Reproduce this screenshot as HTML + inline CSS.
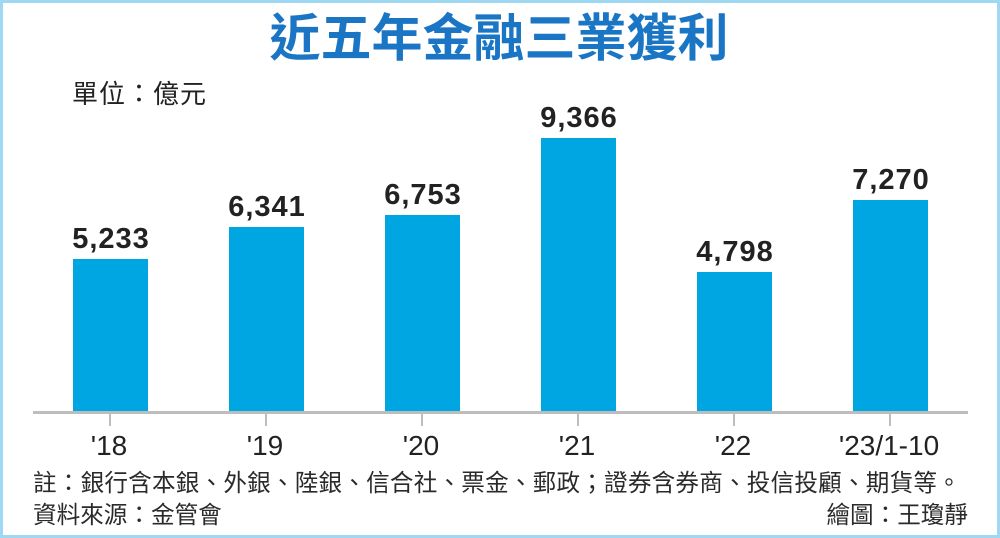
<!DOCTYPE html>
<html><head><meta charset="utf-8"><style>
html,body{margin:0;padding:0;background:#fff;}
svg{display:block;}
</style></head><body>
<svg width="1000" height="538" viewBox="0 0 1000 538" xmlns="http://www.w3.org/2000/svg">
<rect x="0" y="0" width="1000" height="538" fill="#fff"/>
<rect x="1.5" y="1.5" width="997" height="535" fill="none" stroke="#9fd8f2" stroke-width="3"/>
<text x="499" y="56" text-anchor="middle" font-family="'Liberation Sans','Noto Sans CJK TC',sans-serif" font-size="51" font-weight="bold" fill="#1a76c4">近五年金融三業獲利</text>
<text x="72" y="103" font-family="'Liberation Sans','Noto Sans CJK TC',sans-serif" font-size="26" fill="#222" letter-spacing="1">單位：億元</text>
<g fill="#00a6e2">
<rect x="73" y="259" width="75" height="154"/>
<rect x="229" y="227" width="75" height="186"/>
<rect x="385" y="215" width="75" height="198"/>
<rect x="541" y="138" width="75" height="275"/>
<rect x="697" y="272" width="75" height="141"/>
<rect x="853" y="200" width="75" height="213"/>
</g>
<rect x="33" y="411" width="935" height="3" fill="#bdbdbd"/>
<g fill="#bdbdbd">
<rect x="109" y="414" width="2" height="12"/>
<rect x="265" y="414" width="2" height="12"/>
<rect x="421" y="414" width="2" height="12"/>
<rect x="577" y="414" width="2" height="12"/>
<rect x="733" y="414" width="2" height="12"/>
<rect x="889" y="414" width="2" height="12"/>
</g>
<g font-family="'Liberation Sans',sans-serif" font-size="29" font-weight="bold" fill="#222" text-anchor="middle" letter-spacing="1">
<text x="111" y="248">5,233</text>
<text x="267" y="216">6,341</text>
<text x="423" y="204">6,753</text>
<text x="579" y="127">9,366</text>
<text x="735" y="261">4,798</text>
<text x="891" y="189">7,270</text>
</g>
<g font-family="'Liberation Sans',sans-serif" font-size="28" fill="#222" text-anchor="middle">
<text x="109" y="455">'18</text>
<text x="265" y="455">'19</text>
<text x="421" y="455">'20</text>
<text x="577" y="455">'21</text>
<text x="733" y="455">'22</text>
<text x="889" y="455">'23/1-10</text>
</g>
<g font-family="'Liberation Sans','Noto Sans CJK TC',sans-serif" font-size="23.6" fill="#2a2a2a">
<text x="33" y="491" letter-spacing="0.2">註：銀行含本銀、外銀、陸銀、信合社、票金、郵政；證券含券商、投信投顧、期貨等。</text>
<text x="33" y="523">資料來源：金管會</text>
<text x="968" y="523" text-anchor="end">繪圖：王瓊靜</text>
</g>
</svg>
</body></html>
